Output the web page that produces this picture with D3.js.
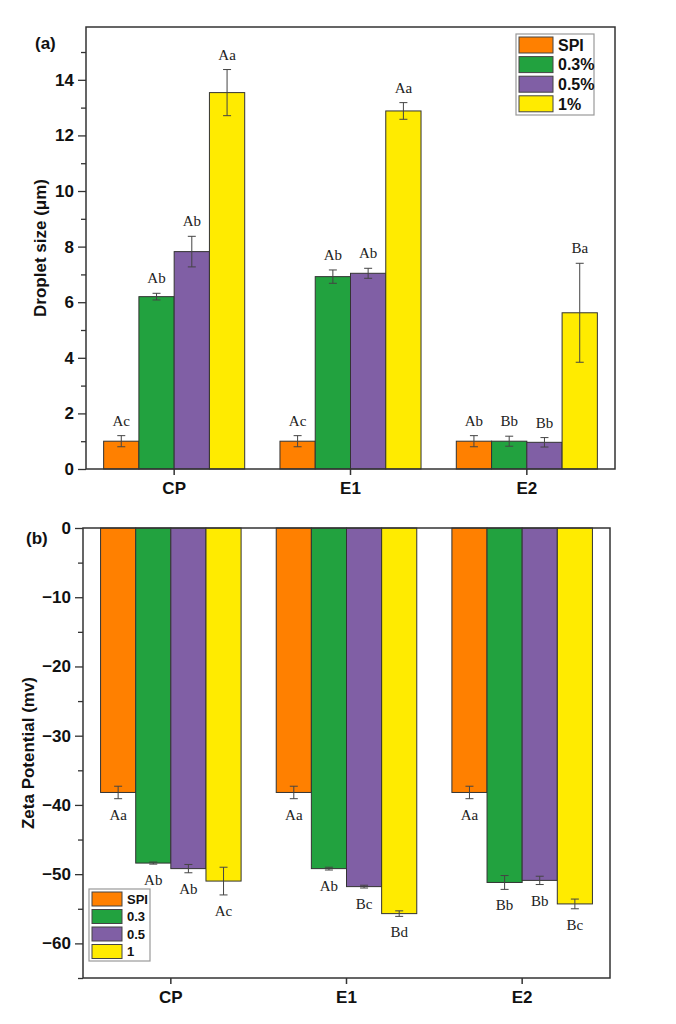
<!DOCTYPE html>
<html>
<head>
<meta charset="utf-8">
<script src="https://cdn.jsdelivr.net/npm/d3@7"></script>
<style>
  body { margin: 0; background: #fff; }
</style>
</head>
<body>
<div id="chart"></div>
<script>
// data
var groups = ['CP', 'E1', 'E2'];
var seriesTop = ['SPI', '0.3%', '0.5%', '1%'];
var seriesBottom = ['SPI', '0.3', '0.5', '1'];
var colors = ['#FF8000', '#22A23F', '#805FA5', '#FFEB00'];

// droplet size, one row per group (SPI, 0.3%, 0.5%, 1%)
var sizeMean = [[1.0, 6.2, 7.82, 13.54], [1.0, 6.92, 7.04, 12.88], [1.0, 1.0, 0.96, 5.62]];
var sizeErr = [[0.2, 0.12, 0.55, 0.83], [0.2, 0.24, 0.18, 0.3], [0.2, 0.18, 0.17, 1.78]];
var sizeLetters = [['Ac', 'Ab', 'Ab', 'Aa'], ['Ac', 'Ab', 'Ab', 'Aa'], ['Ab', 'Bb', 'Bb', 'Ba']];

// zeta potential
var zetaMean = [[-38.2, -48.4, -49.2, -51.0], [-38.2, -49.2, -51.8, -55.7], [-38.2, -51.2, -50.9, -54.3]];
var zetaErr = [[0.9, 0.15, 0.6, 2.0], [0.9, 0.2, 0.2, 0.4], [0.9, 1.0, 0.6, 0.7]];
var zetaLetters = [['Aa', 'Ab', 'Ab', 'Ac'], ['Aa', 'Ab', 'Bc', 'Bd'], ['Aa', 'Bb', 'Bb', 'Bc']];

var sizeTicks = [0, 2, 4, 6, 8, 10, 12, 14];
var zetaTicks = [0, -10, -20, -30, -40, -50, -60];

var sans = '"Liberation Sans", Arial, sans-serif';
var serif = '"Liberation Serif", "Times New Roman", serif';
var axisColor = '#333';

var svg = d3.select('#chart').append('svg')
  .attr('width', 676)
  .attr('height', 1024)
  .attr('font-family', sans);

function drawPanel(cfg) {
  var x = d3.scaleBand().domain(groups).range([cfg.left, cfg.right]).paddingInner(0.2).paddingOuter(0.1);
  var xs = d3.scaleBand().domain(d3.range(4)).range([0, x.bandwidth()]);
  var y = d3.scaleLinear().domain(cfg.domain).range([cfg.bottom, cfg.top]);

  var g = svg.append('g');

  var rows = [];
  groups.forEach(function (grp, gi) {
    cfg.mean[gi].forEach(function (v, si) {
      rows.push({ group: grp, s: si, v: v, e: cfg.err[gi][si], label: cfg.letters[gi][si] });
    });
  });

  // bars
  g.selectAll('rect.bar').data(rows).enter().append('rect')
    .attr('class', 'bar')
    .attr('x', d => x(d.group) + xs(d.s))
    .attr('width', xs.bandwidth())
    .attr('y', d => Math.min(y(d.v), y(0)))
    .attr('height', d => Math.abs(y(d.v) - y(0)))
    .attr('fill', d => colors[d.s])
    .attr('stroke', '#333')
    .attr('stroke-width', 1);

  // error bars
  var eb = g.selectAll('g.err').data(rows).enter().append('g')
    .attr('class', 'err')
    .attr('stroke', '#444')
    .attr('stroke-width', 1);
  var cx = d => x(d.group) + xs(d.s) + xs.bandwidth() / 2;
  eb.append('line').attr('x1', cx).attr('x2', cx)
    .attr('y1', d => y(d.v - d.e)).attr('y2', d => y(d.v + d.e));
  eb.append('line').attr('x1', d => cx(d) - 4).attr('x2', d => cx(d) + 4)
    .attr('y1', d => y(d.v - d.e)).attr('y2', d => y(d.v - d.e));
  eb.append('line').attr('x1', d => cx(d) - 4).attr('x2', d => cx(d) + 4)
    .attr('y1', d => y(d.v + d.e)).attr('y2', d => y(d.v + d.e));

  // letters
  g.selectAll('text.letter').data(rows).enter().append('text')
    .attr('class', 'letter')
    .attr('x', cx)
    .attr('y', d => cfg.positive ? y(d.v + d.e) - 10 : y(d.v - d.e) + 21)
    .attr('text-anchor', 'middle')
    .attr('font-family', serif)
    .attr('font-size', 15)
    .attr('fill', '#222')
    .text(d => d.label);

  // frame
  g.append('rect')
    .attr('x', cfg.left).attr('y', cfg.top)
    .attr('width', cfg.right - cfg.left).attr('height', cfg.bottom - cfg.top)
    .attr('fill', 'none').attr('stroke', axisColor).attr('stroke-width', 1.5);

  // y axis
  var minor = d3.range(cfg.domain[0], cfg.domain[1] + 0.001, cfg.minorStep)
    .filter(v => cfg.ticks.indexOf(v) < 0 && v >= cfg.domain[0] && v <= cfg.domain[1]);
  g.append('g').attr('transform', 'translate(' + cfg.left + ',0)')
    .call(d3.axisLeft(y).tickValues(minor).tickSize(5).tickFormat(''))
    .call(a => a.select('.domain').remove())
    .call(a => a.selectAll('line').attr('stroke', axisColor).attr('stroke-width', 1.3));
  var ya = g.append('g').attr('transform', 'translate(' + cfg.left + ',0)')
    .call(d3.axisLeft(y).tickValues(cfg.ticks).tickSize(8).tickPadding(4).tickFormat(d3.format('d')));
  ya.select('.domain').remove();
  ya.selectAll('line').attr('stroke', axisColor).attr('stroke-width', 1.3);
  ya.selectAll('text').attr('font-family', sans).attr('font-size', 17)
    .attr('font-weight', 'bold').attr('fill', '#111')
    .text(d => d < 0 ? '\u2212' + Math.abs(d) : d);

  // x axis
  var xa = g.append('g').attr('transform', 'translate(0,' + cfg.bottom + ')')
    .call(d3.axisBottom(x).tickSize(6).tickPadding(7));
  xa.select('.domain').remove();
  xa.selectAll('line').attr('stroke', axisColor).attr('stroke-width', 1.5);
  xa.selectAll('text').attr('font-family', sans).attr('font-size', 17)
    .attr('font-weight', 'bold').attr('fill', '#111');

  // y title
  svg.append('text')
    .attr('transform', 'translate(' + cfg.titleX + ',' + (cfg.top + cfg.bottom) / 2 + ') rotate(-90)')
    .attr('text-anchor', 'middle')
    .attr('dy', '0.35em')
    .attr('font-size', 17).attr('font-weight', 'bold').attr('fill', '#111')
    .text(cfg.title);

  // panel tag
  svg.append('text')
    .attr('x', cfg.tagX).attr('y', cfg.tagY)
    .attr('font-size', 17).attr('font-weight', 'bold').attr('fill', '#111')
    .text(cfg.tag);

  // legend
  var L = cfg.legend;
  var lg = svg.append('g').attr('transform', 'translate(' + L.x + ',' + L.y + ')');
  lg.append('rect').attr('width', L.w).attr('height', L.h)
    .attr('fill', '#fff').attr('stroke', '#999').attr('stroke-width', 1.2);
  var item = lg.selectAll('g.item').data(cfg.series).enter().append('g')
    .attr('transform', (d, i) => 'translate(' + L.pad + ',' + (L.pad + i * L.step) + ')');
  item.append('rect').attr('width', L.sw).attr('height', L.sh)
    .attr('fill', (d, i) => colors[i]).attr('stroke', '#444').attr('stroke-width', 1);
  item.append('text').attr('x', L.sw + 5).attr('y', L.sh / 2).attr('dy', '0.36em')
    .attr('font-size', L.fs).attr('font-weight', 'bold').attr('fill', '#111')
    .text(d => d);
}

drawPanel({
  left: 86, right: 615, top: 27, bottom: 469,
  domain: [0, 15.9], ticks: sizeTicks, minorStep: 1,
  mean: sizeMean, err: sizeErr, letters: sizeLetters, positive: true,
  series: seriesTop,
  title: 'Droplet size (\u03bcm)', titleX: 40,
  tag: '(a)', tagX: 35, tagY: 49,
  legend: { x: 516, y: 34, w: 78, h: 81, pad: 3, step: 19.6, sw: 34, sh: 16, fs: 16 }
});

drawPanel({
  left: 83, right: 610, top: 528, bottom: 978,
  domain: [-65, 0], ticks: zetaTicks, minorStep: 5,
  mean: zetaMean, err: zetaErr, letters: zetaLetters, positive: false,
  series: seriesBottom,
  title: 'Zeta Potential (mv)', titleX: 28,
  tag: '(b)', tagX: 26, tagY: 544,
  legend: { x: 89, y: 889, w: 61, h: 72, pad: 3, step: 17.5, sw: 30, sh: 14, fs: 13 }
});
</script>
</body>
</html>
